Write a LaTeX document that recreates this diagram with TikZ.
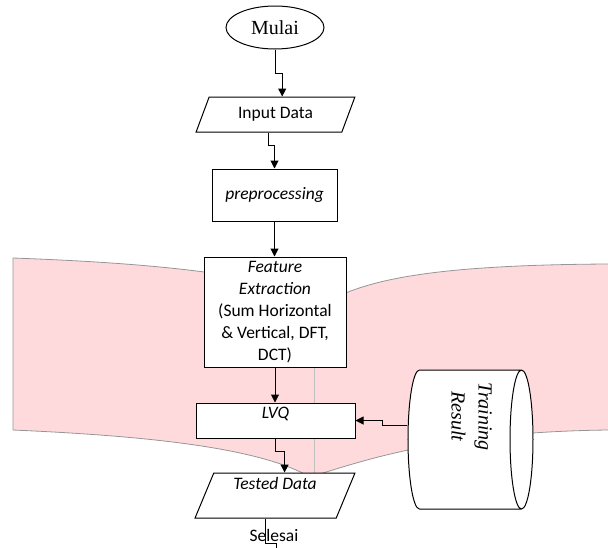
\documentclass[tikz,border=0pt]{standalone}
\usepackage{fontspec}
\setmainfont{Carlito}
\newfontfamily\timesface{Liberation Serif}
\usepackage{graphicx}
\usepackage{tikz}
\usetikzlibrary{shapes.geometric,arrows.meta}
\definecolor{bandpink}{RGB}{255,218,221}
\definecolor{bandedge}{RGB}{150,150,150}

\begin{document}
\begin{tikzpicture}[x=1pt, y=-1pt, >={Triangle[length=8pt,width=8pt]},
    every node/.style={font=\fontsize{17.5}{22}\selectfont},
    flowbox/.style={draw, line width=1pt, fill=white, inner sep=2pt},
    iobox/.style={trapezium, draw, line width=1pt, fill=white, trapezium stretches=true, inner sep=2pt},
    flow/.style={->, line width=1pt}]
    \useasboundingbox (0,0) rectangle (608,547);

    % pink band behind the chart
    \fill[bandpink] (13,258) .. controls (120,262) and (250,270) .. (330,300) .. controls (370,280) and (430,265) .. (608,264) -- (608,430) .. controls (440,432) and (360,462) .. (310,477) .. controls (260,448) and (150,436) .. (13,430) -- cycle;
    \draw[bandedge, line width=0.8pt] (608,264) .. controls (430,265) and (370,280) .. (330,300) .. controls (250,270) and (120,262) .. (13,258) -- (13,430) .. controls (150,436) and (260,448) .. (310,477) .. controls (360,462) and (440,432) .. (608,430);
    \draw[bandedge!60, line width=1pt] (314,300) -- (314,476);

    \node (mulai) [ellipse, draw, line width=1pt, fill=white, minimum width=98, minimum height=43, inner sep=0pt, font=\timesface\fontsize{20}{24}\selectfont] at (275,27.5) {Mulai};
    \node (input) [iobox, trapezium left angle=66.8, trapezium right angle=113.2, minimum width=159, minimum height=35] at (275.5,114.5) {Input Data};
    \node (prep) [flowbox, minimum width=125, minimum height=52] at (274.5,195) {\textit{preprocessing}};
    \node (feat) [flowbox, minimum width=142, minimum height=110, align=center] at (275,312) {\textit{Feature}\\ \textit{Extraction}\\ (Sum Horizontal\\ \& Vertical, DFT,\\ DCT)};
    \node (lvq) [flowbox, minimum width=159, minimum height=35, text depth=15] at (275.5,420.5) {\textit{LVQ}};
    \node (test) [iobox, trapezium left angle=71.6, trapezium right angle=108.4, minimum width=160, minimum height=45, text depth=24] at (275,495.5) {\textit{Tested Data}};
    \node (selesai) at (274,535) {Selesai};
    \coordinate (stop) at (276,549);

    \node (train) [cylinder, draw, line width=1pt, fill=white, minimum width=139, minimum height=125, aspect=0.2, inner sep=0pt, font=\timesface\itshape\fontsize{20}{27}\selectfont] at (464.5,439.5) {\rotatebox{-90}{\raisebox{0pt}[\height][\dimexpr\depth+12pt]{\begin{tabular}{@{}c@{}}Training\\Result\end{tabular}}\hspace{46pt}}};

    \draw[flow] (mulai.south) -- ++(0,24) -| (input.top side);
    \draw[flow] (input.bottom side) -- ++(0,13) -| (prep.north);
    \draw[flow] (prep.south) -- (prep.south |- feat.north);
    \draw[flow] (feat.south) -- (feat.south |- lvq.north);
    \draw[flow] (lvq.south) -- ++(0,13) -| (test.top side);
    \draw[line width=1pt] (test.bottom side) -- ++(0,25) -| (stop);
    \draw[flow] ([yshift=14.5pt]train.west) -- ++(-25,0) |- (lvq.east);
\end{tikzpicture}
\end{document}
